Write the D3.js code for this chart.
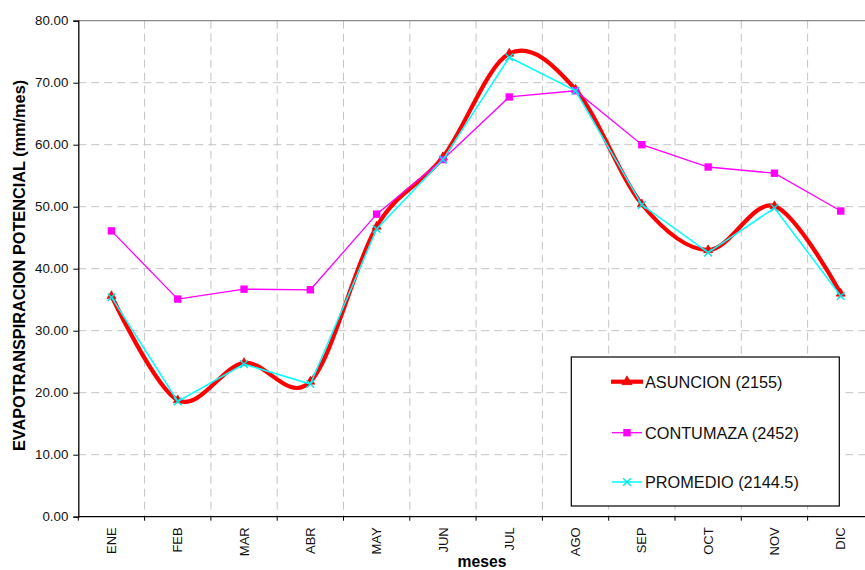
<!DOCTYPE html>
<html>
<head>
<meta charset="utf-8">
<script src="https://cdn.jsdelivr.net/npm/d3@7"></script>
<style>
  html, body { margin: 0; padding: 0; background: #fff; }
  svg { display: block; font-family: "Liberation Sans", Arial, sans-serif; }
</style>
</head>
<body>
<svg id="chart" width="865" height="570"></svg>
<script>
const months = ["ENE","FEB","MAR","ABR","MAY","JUN","JUL","AGO","SEP","OCT","NOV","DIC"];
const asuncion  = [35.6, 18.8, 24.8, 21.8, 46.8, 58.0, 74.7, 68.9, 50.4, 43.0, 50.1, 36.0];
const contumaza = [46.1, 35.1, 36.7, 36.6, 48.8, 57.6, 67.7, 68.7, 60.0, 56.4, 55.4, 49.3];
const promedio  = [35.4, 18.6, 24.6, 21.4, 46.4, 57.6, 74.1, 68.7, 50.3, 42.6, 49.8, 35.6];
const yTicks = [0, 10, 20, 30, 40, 50, 60, 70, 80];
const seriesNames = ["ASUNCION (2155)", "CONTUMAZA (2452)", "PROMEDIO (2144.5)"];
const yTitle = "EVAPOTRANSPIRACION POTENCIAL (mm/mes)";
const xTitle = "meses";

const svg = d3.select("#chart");
const L = 78.3, R = 873.9, T = 20.7, B = 516.7;

const x = d3.scaleBand().domain(months).range([L, R]).padding(0);
const y = d3.scaleLinear().domain([0, 80]).range([B, T]);
const cx = m => x(m) + x.bandwidth() / 2;

// grid
const grid = svg.append("g");
grid.selectAll("line.h").data(yTicks.filter(v => v > 0 && v < 80)).enter().append("line")
  .attr("x1", L).attr("x2", R).attr("y1", d => y(d)).attr("y2", d => y(d))
  .attr("stroke", "#c4c4c4").attr("stroke-width", 1).attr("stroke-dasharray", "8,5");
grid.selectAll("line.v").data(months.slice(1)).enter().append("line")
  .attr("x1", d => x(d)).attr("x2", d => x(d)).attr("y1", T).attr("y2", B)
  .attr("stroke", "#c4c4c4").attr("stroke-width", 1).attr("stroke-dasharray", "8,5");

// top border
svg.append("line").attr("x1", L).attr("x2", 865).attr("y1", T).attr("y2", T)
  .attr("stroke", "#8a8a8a").attr("stroke-width", 1.3);

// y axis
const yAxis = svg.append("g").attr("transform", `translate(${L},0)`)
  .call(d3.axisLeft(y).tickValues(yTicks).tickFormat(d3.format(".2f")).tickSize(5).tickPadding(5));
yAxis.select(".domain").attr("stroke", "#000").attr("stroke-width", 1.3);
yAxis.selectAll(".tick line").attr("stroke", "#000");
yAxis.selectAll(".tick text").attr("font-size", "13.3px").attr("fill", "#111")
  .attr("font-family", "Liberation Sans, Arial, sans-serif");

// x axis
const xg = svg.append("g");
xg.append("line").attr("x1", L).attr("x2", 865).attr("y1", B).attr("y2", B)
  .attr("stroke", "#000").attr("stroke-width", 1.3);
xg.selectAll("line.t").data(months).enter().append("line")
  .attr("x1", d => x(d)).attr("x2", d => x(d)).attr("y1", B).attr("y2", B + 4)
  .attr("stroke", "#000");
xg.selectAll("text").data(months).enter().append("text")
  .attr("transform", d => `translate(${cx(d) + 4.6},${B + 10.6}) rotate(-90)`)
  .attr("text-anchor", "end").attr("font-size", "13px").attr("fill", "#111")
  .text(d => d);

// titles
svg.append("text").attr("transform", `translate(25,265.5) rotate(-90)`)
  .attr("text-anchor", "middle").attr("font-weight", "bold").attr("font-size", "16.3px")
  .attr("fill", "#000").text(yTitle);
svg.append("text").attr("x", 482).attr("y", 567).attr("text-anchor", "middle")
  .attr("font-weight", "bold").attr("font-size", "15.7px").attr("fill", "#000").text(xTitle);

// series
const pts = arr => months.map((m, i) => [cx(m), y(arr[i])]);
const smooth = d3.line().curve(d3.curveCardinal.tension(0));
const straight = d3.line();

// ASUNCION
svg.append("path").attr("d", smooth(pts(asuncion))).attr("fill", "none")
  .attr("stroke", "#ff0000").attr("stroke-width", 4.2).attr("stroke-linejoin", "round");
const tri = d3.symbol().type(d3.symbolTriangle).size(36);
svg.append("g").selectAll("path").data(pts(asuncion)).enter().append("path")
  .attr("d", tri).attr("transform", d => `translate(${d[0]},${d[1]})`)
  .attr("fill", "#ff0000").attr("stroke", "#cc0000").attr("stroke-width", 0.6);

// CONTUMAZA
svg.append("path").attr("d", straight(pts(contumaza))).attr("fill", "none")
  .attr("stroke", "#ff00ff").attr("stroke-width", 1.3);
svg.append("g").selectAll("rect").data(pts(contumaza)).enter().append("rect")
  .attr("x", d => d[0] - 3.7).attr("y", d => d[1] - 3.7).attr("width", 7.4).attr("height", 7.4)
  .attr("fill", "#ff00ff");

// PROMEDIO
svg.append("path").attr("d", straight(pts(promedio))).attr("fill", "none")
  .attr("stroke", "#00ffff").attr("stroke-width", 1.5);
const xm = d3.symbol().type(d3.symbolX).size(40);
svg.append("g").selectAll("path").data(pts(promedio)).enter().append("path")
  .attr("d", xm).attr("transform", d => `translate(${d[0]},${d[1]})`)
  .attr("fill", "none").attr("stroke", "#00e5e5").attr("stroke-width", 1.4);

// legend
const lg = svg.append("g");
lg.append("rect").attr("x", 571.3).attr("y", 357).attr("width", 268).attr("height", 149)
  .attr("fill", "#fff").attr("stroke", "#000").attr("stroke-width", 1.2);
const ly = [381.7, 432.7, 482];
// row 1
lg.append("line").attr("x1", 611).attr("x2", 643).attr("y1", ly[0]).attr("y2", ly[0])
  .attr("stroke", "#ff0000").attr("stroke-width", 4.2);
lg.append("path").attr("d", d3.symbol().type(d3.symbolTriangle).size(45))
  .attr("transform", `translate(627,${ly[0]})`).attr("fill", "#ff0000").attr("stroke", "#cc0000").attr("stroke-width", 0.6);
// row 2
lg.append("line").attr("x1", 612).attr("x2", 642).attr("y1", ly[1]).attr("y2", ly[1])
  .attr("stroke", "#ff00ff").attr("stroke-width", 1.3);
lg.append("rect").attr("x", 627 - 3.7).attr("y", ly[1] - 3.7).attr("width", 7.4).attr("height", 7.4)
  .attr("fill", "#ff00ff");
// row 3
lg.append("line").attr("x1", 612).attr("x2", 642).attr("y1", ly[2]).attr("y2", ly[2])
  .attr("stroke", "#00ffff").attr("stroke-width", 1.5);
lg.append("path").attr("d", xm).attr("transform", `translate(627,${ly[2]})`)
  .attr("fill", "none").attr("stroke", "#00e5e5").attr("stroke-width", 1.4);
lg.selectAll("text").data(seriesNames).enter().append("text")
  .attr("x", 645).attr("y", (d, i) => ly[i] + 5.9).attr("font-size", "16.3px").attr("fill", "#111")
  .text(d => d);
</script>
</body>
</html>
